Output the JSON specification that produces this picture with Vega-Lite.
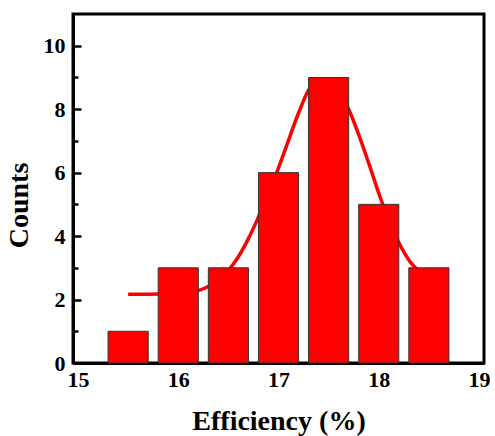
{
  "$schema": "https://vega.github.io/schema/vega-lite/v6.json",
  "width": 411,
  "height": 349,
  "autosize": "none",
  "padding": {"left": 73, "top": 14, "right": 11, "bottom": 73},
  "background": "white",
  "config": {
    "view": {"stroke": "black", "strokeWidth": 3},
    "axis": {
      "labelFont": "'Liberation Serif', 'Times New Roman', serif",
      "labelFontWeight": "bold",
      "labelFontSize": 22,
      "labelColor": "black",
      "titleFont": "'Liberation Serif', 'Times New Roman', serif",
      "titleFontWeight": "bold",
      "titleFontSize": 28,
      "titleColor": "black",
      "grid": false,
      "domainColor": "black",
      "domainWidth": 3,
      "tickColor": "black",
      "tickWidth": 2.5
    }
  },
  "datasets": {
    "bars": [
      {"lo": 15.3, "hi": 15.7, "count": 1},
      {"lo": 15.8, "hi": 16.2, "count": 3},
      {"lo": 16.3, "hi": 16.7, "count": 3},
      {"lo": 16.8, "hi": 17.2, "count": 6},
      {"lo": 17.3, "hi": 17.7, "count": 9},
      {"lo": 17.8, "hi": 18.2, "count": 5},
      {"lo": 18.3, "hi": 18.7, "count": 3}
    ],
    "curve": [
      {"x": 15.5, "y": 2.17},
      {"x": 15.7, "y": 2.17},
      {"x": 15.9, "y": 2.18},
      {"x": 16.1, "y": 2.22},
      {"x": 16.2, "y": 2.28},
      {"x": 16.3, "y": 2.41},
      {"x": 16.4, "y": 2.62},
      {"x": 16.5, "y": 2.92},
      {"x": 16.6, "y": 3.35},
      {"x": 16.7, "y": 3.92},
      {"x": 16.8, "y": 4.6},
      {"x": 16.9, "y": 5.33},
      {"x": 17.0, "y": 6.15},
      {"x": 17.1, "y": 7.02},
      {"x": 17.2, "y": 7.88},
      {"x": 17.3, "y": 8.6},
      {"x": 17.4, "y": 8.92},
      {"x": 17.5, "y": 8.9},
      {"x": 17.6, "y": 8.55},
      {"x": 17.7, "y": 8.0},
      {"x": 17.8, "y": 7.2},
      {"x": 17.9, "y": 6.3},
      {"x": 18.0, "y": 5.35},
      {"x": 18.1, "y": 4.5},
      {"x": 18.2, "y": 3.8},
      {"x": 18.3, "y": 3.25},
      {"x": 18.4, "y": 2.9},
      {"x": 18.5, "y": 2.65}
    ]
  },
  "layer": [
    {
      "data": {"name": "curve"},
      "mark": {"type": "line", "color": "#ff0000", "strokeWidth": 3.5, "interpolate": "monotone"},
      "encoding": {
        "x": {
          "field": "x", "type": "quantitative",
          "scale": {"domain": [15, 19], "nice": false},
          "axis": {"values": [15, 16, 17, 18, 19], "ticks": false, "labelPadding": 6, "title": "Efficiency (%)", "titlePadding": 17}
        },
        "y": {
          "field": "y", "type": "quantitative",
          "scale": {"domain": [0, 11], "nice": false},
          "axis": {"orient": "left", "values": [1, 3, 5, 7, 9], "labels": false, "domain": false, "tickSize": -5, "title": null}
        }
      }
    },
    {
      "data": {"name": "bars"},
      "mark": {"type": "bar", "color": "#ff0000", "stroke": "#333333", "strokeWidth": 1, "orient": "vertical"},
      "encoding": {
        "x": {
          "field": "lo", "type": "quantitative",
          "scale": {"domain": [15, 19], "nice": false},
          "axis": {"values": [15, 16, 17, 18, 19], "ticks": false, "labelPadding": 6, "title": "Efficiency (%)", "titlePadding": 17}
        },
        "x2": {"field": "hi"},
        "y": {
          "field": "count", "type": "quantitative",
          "scale": {"domain": [0, 11], "nice": false},
          "axis": {"orient": "left", "values": [0, 2, 4, 6, 8, 10], "tickSize": -8, "labelPadding": 16, "title": "Counts", "titlePadding": 10, "titleY": 191}
        },
        "y2": {"datum": 0}
      }
    }
  ],
  "resolve": {"axis": {"y": "independent"}}
}
